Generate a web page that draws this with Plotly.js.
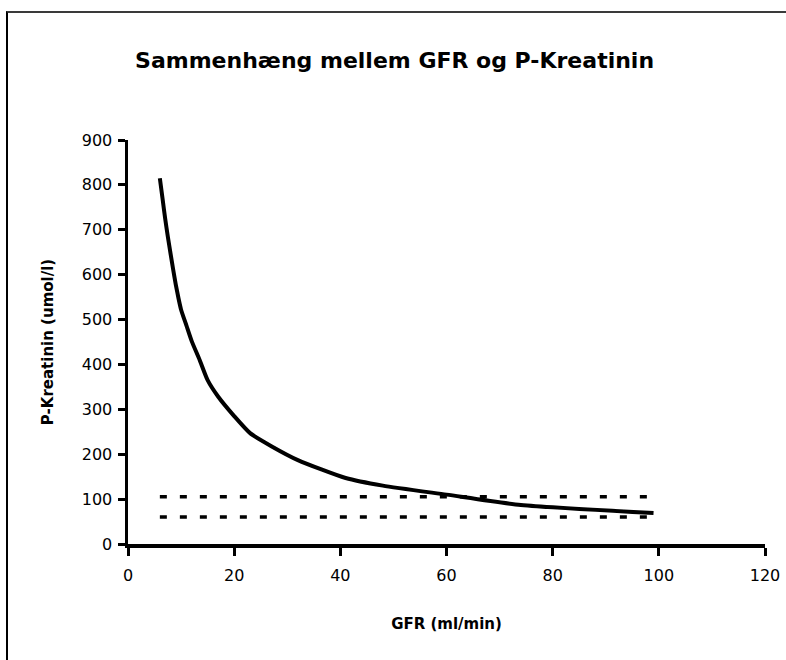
<!DOCTYPE html>
<html>
<head>
<meta charset="utf-8">
<script src="https://cdn.plot.ly/plotly-3.0.1.min.js"></script>
<style>
  html, body { margin: 0; padding: 0; background: #fff; }
  #chart { position: absolute; left: 0; top: 0; width: 786px; height: 660px; }
  #frame { position: absolute; left: 6px; top: 11px; width: 820px; height: 700px;
           border-top: 2px solid #3a3a3a; border-left: 2px solid #000; pointer-events: none; }
</style>
</head>
<body>
<div id="chart"></div>
<div id="frame"></div>
<script>
// Data
const gfr        = [6, 6.5, 7, 7.5, 8, 8.5, 9, 9.5, 10, 11, 12, 13.5, 15, 17, 20, 23, 27, 32, 41, 48, 60, 74, 99];
const kreatinin  = [815, 770, 725, 685, 648, 612, 578, 548, 522, 487, 452, 410, 365, 328, 285, 247, 218, 187, 147, 130, 110, 87, 69];
const refRangeX  = [6, 99];
const refUpper   = [105, 105];
const refLower   = [60, 60];
const xTicks     = [0, 20, 40, 60, 80, 100, 120];
const yTicks     = [0, 100, 200, 300, 400, 500, 600, 700, 800, 900];

const FONT = '"DejaVu Sans", "Noto Sans", sans-serif';

const traces = [
  { x: gfr, y: kreatinin, mode: 'lines', type: 'scatter',
    line: { color: '#000', width: 4, shape: 'spline', smoothing: 0.6 }, hoverinfo: 'skip', showlegend: false },
  { x: refRangeX, y: refUpper, mode: 'lines', type: 'scatter',
    line: { color: '#000', width: 3.5, dash: '7px,13px' }, showlegend: false },
  { x: refRangeX, y: refLower, mode: 'lines', type: 'scatter',
    line: { color: '#000', width: 3.5, dash: '7px,13px' }, showlegend: false }
];

const layout = {
  width: 786, height: 660,
  margin: { l: 128, r: 21, t: 140, b: 116 },
  paper_bgcolor: '#fff', plot_bgcolor: '#fff',
  font: { family: FONT, color: '#000', size: 16 },
  showlegend: false,
  title: { text: '<b>Sammenhæng mellem GFR og P-Kreatinin</b>',
           font: { family: FONT, size: 22, color: '#000' },
           xref: 'container', x: 0.502, yref: 'container', y: 0.909, yanchor: 'middle' },
  xaxis: {
    range: [0, 120], tickvals: xTicks, ticktext: xTicks.map(String),
    showgrid: false, zeroline: false, showline: true, linecolor: '#000', linewidth: 3.5,
    ticks: 'outside', ticklen: 8, tickwidth: 3, tickcolor: '#000', ticklabelstandoff: 6,
    tickfont: { family: FONT, size: 16, color: '#000' },
    title: { text: '<b>GFR (ml/min)</b>', font: { family: FONT, size: 15, color: '#000' }, standoff: 36 }
  },
  yaxis: {
    range: [0, 900], tickvals: yTicks, ticktext: yTicks.map(String),
    showgrid: false, zeroline: false, showline: true, linecolor: '#000', linewidth: 3.5,
    ticks: 'outside', ticklen: 7, tickwidth: 3, tickcolor: '#000', ticklabelstandoff: 2,
    tickfont: { family: FONT, size: 16, color: '#000' },
    title: { text: '<b>P-Kreatinin (umol/l)</b>', font: { family: FONT, size: 15, color: '#000' }, standoff: 25 }
  }
};

Plotly.newPlot('chart', traces, layout, { displayModeBar: false, staticPlot: true });
</script>
</body>
</html>
